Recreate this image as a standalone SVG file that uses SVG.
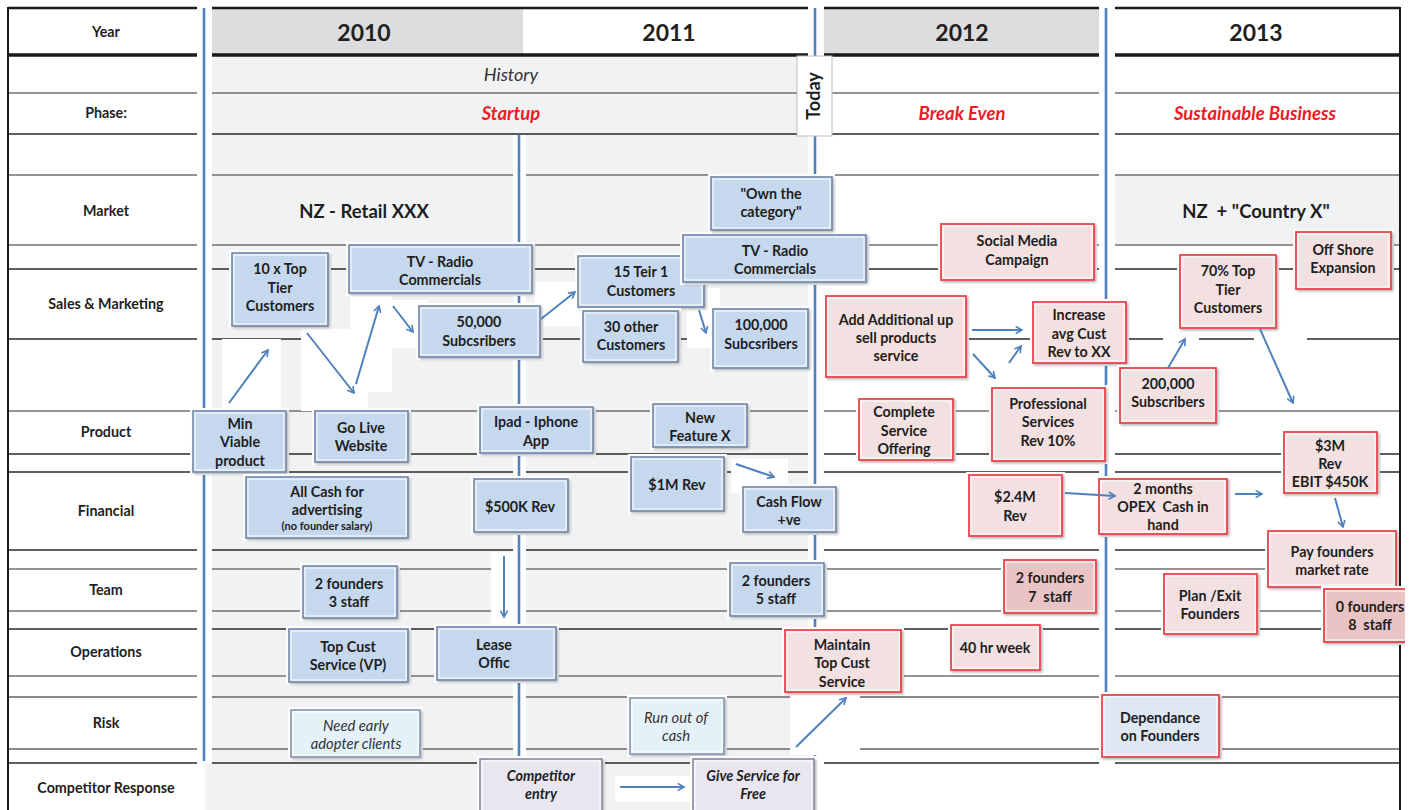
<svg xmlns="http://www.w3.org/2000/svg" width="1414" height="810" viewBox="0 0 1414 810">
<defs>
<style>
text{font-family:Lato,"Liberation Sans",sans-serif;fill:#1e1e1e}
.lbl{font-size:14.3px;font-weight:bold;text-anchor:middle}
.yr{font-size:23px;font-weight:bold;text-anchor:middle;fill:#231f20}
.hist{font-size:18px;font-style:italic;text-anchor:middle;fill:#333}
.ph{font-size:18.5px;font-weight:bold;font-style:italic;fill:#ee1c25;text-anchor:middle}
.mk{font-size:18.5px;font-weight:bold;text-anchor:middle;white-space:pre}
.t{font-size:14.3px;font-weight:bold;text-anchor:middle}
.sm{font-size:11px}
.it{font-style:italic;font-weight:normal;fill:#333;font-size:14.8px}
.bi{font-style:italic}
.pre{white-space:pre}
.halo,.wb{fill:#fff}
.in{fill:none;stroke:#fff;stroke-width:1}
.bx{filter:url(#sh)}
.b .bx{fill:#c5d8ee;stroke:#7488a5;stroke-width:1.6}
.r .bx{fill:#e4f1f8;stroke:#8797b0;stroke-width:1.6}
.c .bx{fill:#e9e6f0;stroke:#8a87a3;stroke-width:1.6}
.p .bx{fill:#f3e0e0;stroke:#e8464e;stroke-width:1.8}
.pd .bx{fill:#e9c4c5;stroke:#e8464e;stroke-width:1.8}
.pb .bx{fill:#dee7f2;stroke:#e8464e;stroke-width:1.8}
.gd{stroke:#2a2a2a;stroke-width:1.4;fill:none}
.gm{stroke:#707070;stroke-width:1.4;fill:none}
.gt{stroke:#8a8a8a;stroke-width:2;fill:none}
.vl{stroke:#4f81bd;stroke-width:2.6;fill:none}
.ar{stroke:#4f81bd;stroke-width:2;fill:none;marker-end:url(#ah)}
</style>
<marker id="ah" viewBox="0 0 10 10" refX="8" refY="5" markerWidth="9" markerHeight="9" markerUnits="userSpaceOnUse" orient="auto">
<path d="M1,1 L8,5 L1,9" fill="none" stroke="#4f81bd" stroke-width="1.8"/>
</marker>
<filter id="sh" x="-10%" y="-10%" width="130%" height="130%"><feDropShadow dx="1.5" dy="1.5" stdDeviation="1" flood-color="#000" flood-opacity="0.3"/></filter>
<clipPath id="cr"><rect x="0" y="0" width="1405" height="810"/></clipPath>
</defs>

<g id="background">
<rect x="0" y="0" width="1414" height="810" fill="#fff"/>
<rect x="212" y="55" width="596" height="708" fill="#f1f2f4"/>
<rect x="205" y="763" width="610" height="47" fill="#f1f2f4"/>
<rect x="212" y="8" width="311" height="47" fill="#dcdddf"/>
<rect x="824" y="8" width="275" height="47" fill="#dcdddf"/>
<rect x="1115" y="175" width="285" height="70" fill="#f1f2f4"/>
</g>

<g id="grid">
<path class="gm" d="M8 93H197M212 93H808M824 93H1099M1115 93H1400 M8 175H197M212 175H808M824 175H1099M1115 175H1400 M8 245H197M212 245H808M824 245H1099M1115 245H1400 M8 411H197M212 411H808M824 411H1099M1115 411H1400 M8 569H197M212 569H808M824 569H1099M1115 569H1400 M8 611H197M212 611H808M824 611H1099M1115 611H1400 M8 676H197M212 676H808M824 676H1099M1115 676H1400"/>
<path class="gd" d="M8 134H197M212 134H808M824 134H1099M1115 134H1400 M8 269H197M212 269H808M824 269H1099M1115 269H1400 M8 339H197M212 339H808M824 339H1099M1115 339H1400 M8 454H197M212 454H808M824 454H1099M1115 454H1400 M8 472H197M212 472H808M824 472H1099M1115 472H1400 M8 550H197M212 550H808M824 550H1099M1115 550H1400 M8 629H197M212 629H808M824 629H1099M1115 629H1400 M8 763H197M212 763H808M824 763H1099M1115 763H1400"/>
<path class="gt" d="M8 697H197M212 697H808M824 697H1099M1115 697H1400 M8 749H197M212 749H808M824 749H1099M1115 749H1400"/>
<path stroke="#1a1a1a" stroke-width="2.5" fill="none" d="M8 8H197M212 8H808M824 8H1099M1115 8H1400"/>
<path stroke="#1a1a1a" stroke-width="3.5" fill="none" d="M8 55H197M212 55H808M824 55H1099M1115 55H1400"/>
<path stroke="#1a1a1a" stroke-width="2" fill="none" d="M8 7V810M1400 7V810"/>
<rect x="513" y="135" width="13" height="625" fill="#fff"/>
<path class="vl" d="M204 8V761M519 135V757M815 8V757M1106 8V692"/>
</g>

<g id="row-labels">
<text class="lbl" x="106" y="37">Year</text>
<text class="lbl" x="106" y="118">Phase:</text>
<text class="lbl" x="106" y="216">Market</text>
<text class="lbl" x="106" y="309">Sales &amp; Marketing</text>
<text class="lbl" x="106" y="437">Product</text>
<text class="lbl" x="106" y="516">Financial</text>
<text class="lbl" x="106" y="595">Team</text>
<text class="lbl" x="106" y="657">Operations</text>
<text class="lbl" x="106" y="728">Risk</text>
<text class="lbl" x="106" y="793">Competitor Response</text>
</g>

<g id="headers">
<text class="yr" x="364" y="41">2010</text>
<text class="yr" x="669" y="41">2011</text>
<text class="yr" x="962" y="41">2012</text>
<text class="yr" x="1256" y="41">2013</text>
<text class="hist" x="511" y="81">History</text>
<text class="ph" x="511" y="120">Startup</text>
<text class="ph" x="962" y="120">Break Even</text>
<text class="ph" x="1255" y="120">Sustainable Business</text>
<text class="mk" x="364" y="218">NZ - Retail XXX</text>
<text class="mk" x="1256" y="218">NZ  + "Country X"</text>
</g>

<g id="today">
<rect x="797" y="56" width="35" height="80" fill="#fff" stroke="#bbb" stroke-width="1"/>
<text x="814" y="102" transform="rotate(-90 814 96)" style="font-size:18px;font-weight:bold;text-anchor:middle">Today</text>
</g>

<g id="connector-bg">
<rect class="wb" x="222" y="339" width="59" height="72"/>
<rect class="wb" x="301" y="329" width="67" height="82"/>
<rect class="wb" x="350" y="295" width="42" height="97"/>
<rect class="wb" x="392" y="300" width="36" height="48"/>
<rect class="wb" x="535" y="282" width="50" height="44"/>
<rect class="wb" x="687" y="288" width="33" height="60"/>
<rect class="wb" x="731" y="459" width="57" height="34"/>
<rect class="wb" x="491" y="552" width="26" height="80"/>
<rect class="wb" x="615" y="776" width="82" height="26"/>
<rect class="wb" x="790" y="686" width="70" height="69"/>
<rect class="wb" x="1163" y="330" width="36" height="38"/>
<rect class="wb" x="1254" y="330" width="53" height="80"/>
<rect class="wb" x="1062" y="485" width="67" height="26"/>
</g>

<g id="n-10x" class="b"><rect class="halo" x="229" y="250" width="102" height="79"/><rect class="bx" x="232" y="253" width="96" height="73"/><rect class="in" x="234" y="255" width="92" height="69"/><text class="t"><tspan x="280" y="274">10 x Top</tspan><tspan x="280" y="293">Tier</tspan><tspan x="280" y="311">Customers</tspan></text></g>
<g id="n-tv1" class="b"><rect class="halo" x="346" y="242" width="189" height="54"/><rect class="bx" x="349" y="245" width="183" height="48"/><rect class="in" x="351" y="247" width="179" height="44"/><text class="t"><tspan x="440" y="267">TV - Radio</tspan><tspan x="440" y="285">Commercials</tspan></text></g>
<g id="n-50k" class="b"><rect class="halo" x="416" y="303" width="127" height="57"/><rect class="bx" x="419" y="306" width="121" height="51"/><rect class="in" x="421" y="308" width="117" height="47"/><text class="t"><tspan x="479" y="327">50,000</tspan><tspan x="479" y="346">Subcsribers</tspan></text></g>
<g id="n-15teir" class="b"><rect class="halo" x="575" y="253" width="132" height="57"/><rect class="bx" x="578" y="256" width="126" height="51"/><rect class="in" x="580" y="258" width="122" height="47"/><text class="t"><tspan x="641" y="277">15 Teir 1</tspan><tspan x="641" y="296">Customers</tspan></text></g>
<g id="n-30other" class="b"><rect class="halo" x="580" y="308" width="101" height="57"/><rect class="bx" x="583" y="311" width="95" height="51"/><rect class="in" x="585" y="313" width="91" height="47"/><text class="t"><tspan x="631" y="332">30 other</tspan><tspan x="631" y="350">Customers</tspan></text></g>
<g id="n-100k" class="b"><rect class="halo" x="710" y="306" width="101" height="65"/><rect class="bx" x="713" y="309" width="95" height="59"/><rect class="in" x="715" y="311" width="91" height="55"/><text class="t"><tspan x="761" y="330">100,000</tspan><tspan x="761" y="349">Subcsribers</tspan></text></g>
<g id="n-tv2" class="b"><rect class="halo" x="680" y="232" width="189" height="53"/><rect class="bx" x="683" y="235" width="183" height="47"/><rect class="in" x="685" y="237" width="179" height="43"/><text class="t"><tspan x="775" y="256">TV - Radio</tspan><tspan x="775" y="274">Commercials</tspan></text></g>
<g id="n-own" class="b"><rect class="halo" x="708" y="174" width="127" height="59"/><rect class="bx" x="711" y="177" width="121" height="53"/><rect class="in" x="713" y="179" width="117" height="49"/><text class="t"><tspan x="771" y="199">"Own the</tspan><tspan x="771" y="217">category"</tspan></text></g>
<g id="n-mvp" class="b"><rect class="halo" x="190" y="408" width="99" height="67"/><rect class="bx" x="193" y="411" width="93" height="61"/><rect class="in" x="195" y="413" width="89" height="57"/><text class="t"><tspan x="240" y="429">Min</tspan><tspan x="240" y="447">Viable</tspan><tspan x="240" y="466">product</tspan></text></g>
<g id="n-golive" class="b"><rect class="halo" x="312" y="408" width="99" height="57"/><rect class="bx" x="315" y="411" width="93" height="51"/><rect class="in" x="317" y="413" width="89" height="47"/><text class="t"><tspan x="361" y="433">Go Live</tspan><tspan x="361" y="451">Website</tspan></text></g>
<g id="n-ipad" class="b"><rect class="halo" x="477" y="404" width="119" height="52"/><rect class="bx" x="480" y="407" width="113" height="46"/><rect class="in" x="482" y="409" width="109" height="42"/><text class="t"><tspan x="536" y="427">Ipad - Iphone</tspan><tspan x="536" y="446">App</tspan></text></g>
<g id="n-newfeature" class="b"><rect class="halo" x="650" y="401" width="100" height="49"/><rect class="bx" x="653" y="404" width="94" height="43"/><rect class="in" x="655" y="406" width="90" height="39"/><text class="t"><tspan x="700" y="423">New</tspan><tspan x="700" y="441">Feature X</tspan></text></g>
<g id="n-allcash" class="b"><rect class="halo" x="243" y="474" width="168" height="67"/><rect class="bx" x="246" y="477" width="162" height="61"/><rect class="in" x="248" y="479" width="158" height="57"/><text class="t"><tspan x="327" y="497">All Cash for</tspan><tspan x="327" y="515">advertising</tspan><tspan class="sm" x="327" y="530">(no founder salary)</tspan></text></g>
<g id="n-500k" class="b"><rect class="halo" x="471" y="476" width="100" height="59"/><rect class="bx" x="474" y="479" width="94" height="53"/><rect class="in" x="476" y="481" width="90" height="49"/><text class="t" x="520" y="512">$500K Rev</text></g>
<g id="n-1m" class="b"><rect class="halo" x="628" y="454" width="99" height="60"/><rect class="bx" x="631" y="457" width="93" height="54"/><rect class="in" x="633" y="459" width="89" height="50"/><text class="t" x="677" y="490">$1M Rev</text></g>
<g id="n-cashflow" class="b"><rect class="halo" x="740" y="484" width="99" height="51"/><rect class="bx" x="743" y="487" width="93" height="45"/><rect class="in" x="745" y="489" width="89" height="41"/><text class="t"><tspan x="789" y="507">Cash Flow</tspan><tspan x="789" y="525">+ve</tspan></text></g>
<g id="n-team2010" class="b"><rect class="halo" x="300" y="563" width="100" height="58"/><rect class="bx" x="303" y="566" width="94" height="52"/><rect class="in" x="305" y="568" width="90" height="48"/><text class="t"><tspan x="349" y="589">2 founders</tspan><tspan x="349" y="607">3 staff</tspan></text></g>
<g id="n-team2011" class="b"><rect class="halo" x="727" y="560" width="100" height="59"/><rect class="bx" x="730" y="563" width="94" height="53"/><rect class="in" x="732" y="565" width="90" height="49"/><text class="t"><tspan x="776" y="586">2 founders</tspan><tspan x="776" y="604">5 staff</tspan></text></g>
<g id="n-topcust" class="b"><rect class="halo" x="286" y="626" width="125" height="59"/><rect class="bx" x="289" y="629" width="119" height="53"/><rect class="in" x="291" y="631" width="115" height="49"/><text class="t"><tspan x="348" y="652">Top Cust</tspan><tspan x="348" y="670">Service (VP)</tspan></text></g>
<g id="n-lease" class="b"><rect class="halo" x="434" y="624" width="125" height="59"/><rect class="bx" x="437" y="627" width="119" height="53"/><rect class="in" x="439" y="629" width="115" height="49"/><text class="t"><tspan x="494" y="650">Lease</tspan><tspan x="494" y="668">Offic</tspan></text></g>
<g id="n-earlyadopter" class="r"><rect class="halo" x="288" y="707" width="135" height="53"/><rect class="bx" x="291" y="710" width="129" height="47"/><rect class="in" x="293" y="712" width="125" height="43"/><text class="t it"><tspan x="356" y="731">Need early</tspan><tspan x="356" y="749">adopter clients</tspan></text></g>
<g id="n-runout" class="r"><rect class="halo" x="627" y="695" width="100" height="62"/><rect class="bx" x="630" y="698" width="94" height="56"/><rect class="in" x="632" y="700" width="90" height="52"/><text class="t it"><tspan x="676" y="723">Run out of</tspan><tspan x="676" y="741">cash</tspan></text></g>
<g id="n-competitor" class="c"><rect class="halo" x="477" y="756" width="128" height="60"/><rect class="bx" x="480" y="759" width="122" height="56"/><rect class="in" x="482" y="761" width="118" height="52"/><text class="t bi"><tspan x="541" y="781">Competitor</tspan><tspan x="541" y="799">entry</tspan></text></g>
<g id="n-givefree" class="c"><rect class="halo" x="690" y="756" width="127" height="60"/><rect class="bx" x="693" y="759" width="121" height="56"/><rect class="in" x="695" y="761" width="117" height="52"/><text class="t bi"><tspan x="753" y="781">Give Service for</tspan><tspan x="753" y="799">Free</tspan></text></g>

<g id="n-social" class="p"><rect class="halo" x="938" y="221" width="159" height="62"/><rect class="bx" x="941" y="224" width="153" height="56"/><rect class="in" x="943" y="226" width="149" height="52"/><text class="t"><tspan x="1017" y="246">Social Media</tspan><tspan x="1017" y="265">Campaign</tspan></text></g>
<g id="n-upsell" class="p"><rect class="halo" x="823" y="293" width="146" height="87"/><rect class="bx" x="826" y="296" width="140" height="81"/><rect class="in" x="828" y="298" width="136" height="77"/><text class="t"><tspan x="896" y="325">Add Additional up</tspan><tspan x="896" y="343">sell products</tspan><tspan x="896" y="361">service</tspan></text></g>
<g id="n-increase" class="p"><rect class="halo" x="1030" y="299" width="99" height="67"/><rect class="bx" x="1033" y="302" width="93" height="61"/><rect class="in" x="1035" y="304" width="89" height="57"/><text class="t"><tspan x="1079" y="320">Increase</tspan><tspan x="1079" y="339">avg Cust</tspan><tspan x="1079" y="357">Rev to XX</tspan></text></g>
<g id="n-complete" class="p"><rect class="halo" x="856" y="396" width="100" height="67"/><rect class="bx" x="859" y="399" width="94" height="61"/><rect class="in" x="861" y="401" width="90" height="57"/><text class="t"><tspan x="904" y="417">Complete</tspan><tspan x="904" y="436">Service</tspan><tspan x="904" y="454">Offering</tspan></text></g>
<g id="n-professional" class="p"><rect class="halo" x="989" y="385" width="119" height="79"/><rect class="bx" x="992" y="388" width="113" height="73"/><rect class="in" x="994" y="390" width="109" height="69"/><text class="t"><tspan x="1048" y="409">Professional</tspan><tspan x="1048" y="427">Services</tspan><tspan x="1048" y="446">Rev 10%</tspan></text></g>
<g id="n-200k" class="p"><rect class="halo" x="1117" y="365" width="102" height="61"/><rect class="bx" x="1120" y="368" width="96" height="55"/><rect class="in" x="1122" y="370" width="92" height="51"/><text class="t"><tspan x="1168" y="389">200,000</tspan><tspan x="1168" y="407">Subscribers</tspan></text></g>
<g id="n-70pct" class="p"><rect class="halo" x="1177" y="252" width="102" height="79"/><rect class="bx" x="1180" y="255" width="96" height="73"/><rect class="in" x="1182" y="257" width="92" height="69"/><text class="t"><tspan x="1228" y="276">70% Top</tspan><tspan x="1228" y="295">Tier</tspan><tspan x="1228" y="313">Customers</tspan></text></g>
<g id="n-offshore" class="p"><rect class="halo" x="1293" y="229" width="101" height="63"/><rect class="bx" x="1296" y="232" width="95" height="57"/><rect class="in" x="1298" y="234" width="91" height="53"/><text class="t"><tspan x="1343" y="255">Off Shore</tspan><tspan x="1343" y="273">Expansion</tspan></text></g>
<g id="n-3m" class="p"><rect class="halo" x="1281" y="429" width="99" height="67"/><rect class="bx" x="1284" y="432" width="93" height="61"/><rect class="in" x="1286" y="434" width="89" height="57"/><text class="t"><tspan x="1330" y="451">$3M</tspan><tspan x="1330" y="469">Rev</tspan><tspan x="1330" y="487">EBIT $450K</tspan></text></g>
<g id="n-24m" class="p"><rect class="halo" x="966" y="472" width="99" height="67"/><rect class="bx" x="969" y="475" width="93" height="61"/><rect class="in" x="971" y="477" width="89" height="57"/><text class="t"><tspan x="1015" y="502">$2.4M</tspan><tspan x="1015" y="521">Rev</tspan></text></g>
<g id="n-2months" class="p"><rect class="halo" x="1096" y="476" width="134" height="61"/><rect class="bx" x="1099" y="479" width="128" height="55"/><rect class="in" x="1101" y="481" width="124" height="51"/><text class="t pre"><tspan x="1163" y="494">2 months</tspan><tspan x="1163" y="512">OPEX  Cash in</tspan><tspan x="1163" y="530">hand</tspan></text></g>
<g id="n-payfounders" class="p"><rect class="halo" x="1265" y="528" width="134" height="62"/><rect class="bx" x="1268" y="531" width="128" height="56"/><rect class="in" x="1270" y="533" width="124" height="52"/><text class="t"><tspan x="1332" y="557">Pay founders</tspan><tspan x="1332" y="575">market rate</tspan></text></g>
<g id="n-team2012" class="pd"><rect class="halo" x="1001" y="557" width="98" height="59"/><rect class="bx" x="1004" y="560" width="92" height="53"/><rect class="in" x="1006" y="562" width="88" height="49"/><text class="t pre"><tspan x="1050" y="583">2 founders</tspan><tspan x="1050" y="602">7  staff</tspan></text></g>
<g id="n-planexit" class="p"><rect class="halo" x="1161" y="571" width="99" height="66"/><rect class="bx" x="1164" y="574" width="93" height="60"/><rect class="in" x="1166" y="576" width="89" height="56"/><text class="t"><tspan x="1210" y="601">Plan /Exit</tspan><tspan x="1210" y="619">Founders</tspan></text></g>
<g id="n-team2013" class="pd" clip-path="url(#cr)"><rect class="halo" x="1321" y="586" width="101" height="59"/><rect class="bx" x="1324" y="589" width="95" height="53"/><rect class="in" x="1326" y="591" width="91" height="49"/><text class="t pre"><tspan x="1370" y="612">0 founders</tspan><tspan x="1370" y="630">8  staff</tspan></text></g>
<g id="n-maintain" class="p"><rect class="halo" x="782" y="627" width="122" height="68"/><rect class="bx" x="785" y="630" width="116" height="62"/><rect class="in" x="787" y="632" width="112" height="58"/><text class="t"><tspan x="842" y="650">Maintain</tspan><tspan x="842" y="668">Top Cust</tspan><tspan x="842" y="687">Service</tspan></text></g>
<g id="n-40hr" class="p"><rect class="halo" x="948" y="622" width="95" height="51"/><rect class="bx" x="951" y="625" width="89" height="45"/><rect class="in" x="953" y="627" width="85" height="41"/><text class="t" x="995" y="653">40 hr week</text></g>
<g id="n-dependance" class="pb"><rect class="halo" x="1099" y="692" width="123" height="68"/><rect class="bx" x="1102" y="695" width="117" height="62"/><rect class="in" x="1104" y="697" width="113" height="58"/><text class="t"><tspan x="1160" y="723">Dependance</tspan><tspan x="1160" y="741">on Founders</tspan></text></g>

<g id="connectors">
<path class="ar" d="M229 403L268 350"/>
<path class="ar" d="M307 333L354 393"/>
<path class="ar" d="M356 384L379 306"/>
<path class="ar" d="M393 306L413 332"/>
<path class="ar" d="M541 319L575 292"/>
<path class="ar" d="M699 310L706 333"/>
<path class="ar" d="M736 464L774 477"/>
<path class="ar" d="M504 556L504 617"/>
<path class="ar" d="M620 787L684 787"/>
<path class="ar" d="M796 747L846 698"/>
<path class="ar" d="M972 330L1022 330"/>
<path class="ar" d="M973 354L995 378"/>
<path class="ar" d="M1009 363L1021 346"/>
<path class="ar" d="M1168 368L1185 339"/>
<path class="ar" d="M1260 329L1293 403"/>
<path class="ar" d="M1065 493L1115 496"/>
<path class="ar" d="M1235 494L1262 494"/>
<path class="ar" d="M1335 498L1343 527"/>
</g>
</svg>
